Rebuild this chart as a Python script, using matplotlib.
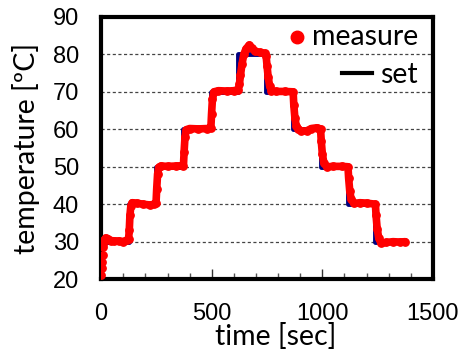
import matplotlib
matplotlib.use("Agg")
import matplotlib.pyplot as plt
from matplotlib.lines import Line2D
from matplotlib.ticker import MultipleLocator

# set-point schedule (step changes)
set_time = [0, 124, 248, 372, 496, 620, 746, 868, 992, 1116, 1240, 1375]
set_temp = [30, 40, 50, 60, 70, 80, 70, 60, 50, 40, 30, 30]

# measured temperature
meas_time = [0, 2, 4, 6, 8, 10, 15, 20, 30, 45, 60, 80, 100, 115, 124, 127, 130, 134,
             140, 160, 190, 220, 240, 248, 251, 255, 260, 270, 300, 340, 372, 375,
             379, 385, 400, 440, 480, 496, 499, 503, 510, 530, 570, 600, 620, 625,
             630, 637, 645, 655, 670, 680, 695, 720, 740, 746, 750, 755, 762, 770,
             790, 830, 868, 871, 876, 882, 892, 905, 930, 950, 975, 992, 995, 1000,
             1007, 1020, 1050, 1090, 1116, 1119, 1124, 1130, 1142, 1170, 1200, 1240,
             1243, 1248, 1255, 1265, 1290, 1320, 1350, 1375]
meas_temp = [21, 23, 24.5, 26.5, 28.5, 29.5, 30.5, 31, 30.6, 30.3, 30.2, 30.2, 30.0,
             30.4, 30.8, 33, 37, 39.5, 40.4, 40.3, 40.0, 39.8, 40.0, 40.3, 44, 48,
             49.8, 50.2, 50.1, 50.2, 50.3, 54, 58, 59.9, 60.2, 60.1, 60.2, 60.4, 64,
             68, 70, 70.3, 70.2, 70.3, 70.6, 72, 74.5, 77.5, 80, 81.5, 82.5, 81.8,
             80.8, 80.5, 80.3, 79.5, 77, 74, 71.5, 70.3, 70.1, 70.1, 70, 66.5, 63,
             61, 60, 59.5, 59.6, 60.2, 60.4, 60.1, 57, 53.5, 51, 50, 50.1, 50.1, 50,
             47, 43.5, 41.5, 40.2, 40.4, 40.3, 40, 37, 33.5, 31, 29.6, 29.8, 30, 29.9,
             30]

x_ticks = [0, 500, 1000, 1500]
y_ticks = [20, 30, 40, 50, 60, 70, 80, 90]
legend_labels = ["measure", "set"]

tick_font = "Liberation Sans"
label_font = "Lato"

fig = plt.figure(figsize=(4.62, 3.52), dpi=100)
ax = fig.add_axes([0.219, 0.207, 0.718, 0.745])

ax.plot(set_time, set_temp, drawstyle="steps-post", color="#000080", lw=3.5, zorder=2)
# first few samples shown as separate dots, the rest as a dense band
ax.plot(meas_time[4:], meas_temp[4:], color="red", lw=5.5,
        solid_joinstyle="round", solid_capstyle="round", zorder=3)
ax.plot(meas_time, meas_temp, color="red", ls="none", marker="o", ms=5.3, zorder=3)

ax.set_xlim(0, 1500)
ax.set_ylim(20, 90)
ax.set_xticks(x_ticks)
ax.set_yticks(y_ticks)
ax.xaxis.set_minor_locator(MultipleLocator(100))

for y in y_ticks[1:-1]:
    ax.axhline(y, color="#444444", lw=0.9, ls=(0, (2.5, 2.0)), zorder=1)

for sp in ax.spines.values():
    sp.set_linewidth(3)
    sp.set_color("black")

ax.tick_params(axis="x", which="major", direction="in", length=7, width=1,
               pad=17, labelsize=17, color="#333333")
ax.tick_params(axis="x", which="minor", direction="in", length=4, width=1,
               color="#555555")
ax.tick_params(axis="y", which="both", length=0, pad=16, labelsize=17)
for lab in ax.get_xticklabels() + ax.get_yticklabels():
    lab.set_fontfamily(tick_font)

ax.set_xlabel("time [sec]", fontsize=20.5, family=label_font, labelpad=0)
ax.xaxis.set_label_coords(0.527, -0.168)
ax.set_ylabel("temperature [\u00baC]", fontsize=20.5, family=label_font, labelpad=9)

# legend drawn in axes coordinates with right-aligned labels
tr = ax.transAxes
ax.add_line(Line2D([0.590], [0.924], transform=tr, color="red", marker="o",
                   ms=9, ls="none", zorder=5))
ax.text(0.955, 0.893, legend_labels[0], transform=tr, ha="right", va="baseline",
        family=label_font, fontsize=20.5, zorder=5)
ax.add_line(Line2D([0.726, 0.815], [0.785, 0.785], transform=tr, color="black",
                   lw=3, zorder=5))
ax.text(0.955, 0.748, legend_labels[1], transform=tr, ha="right", va="baseline",
        family=label_font, fontsize=20.5, zorder=5)

fig.savefig("out.png", dpi=100)
